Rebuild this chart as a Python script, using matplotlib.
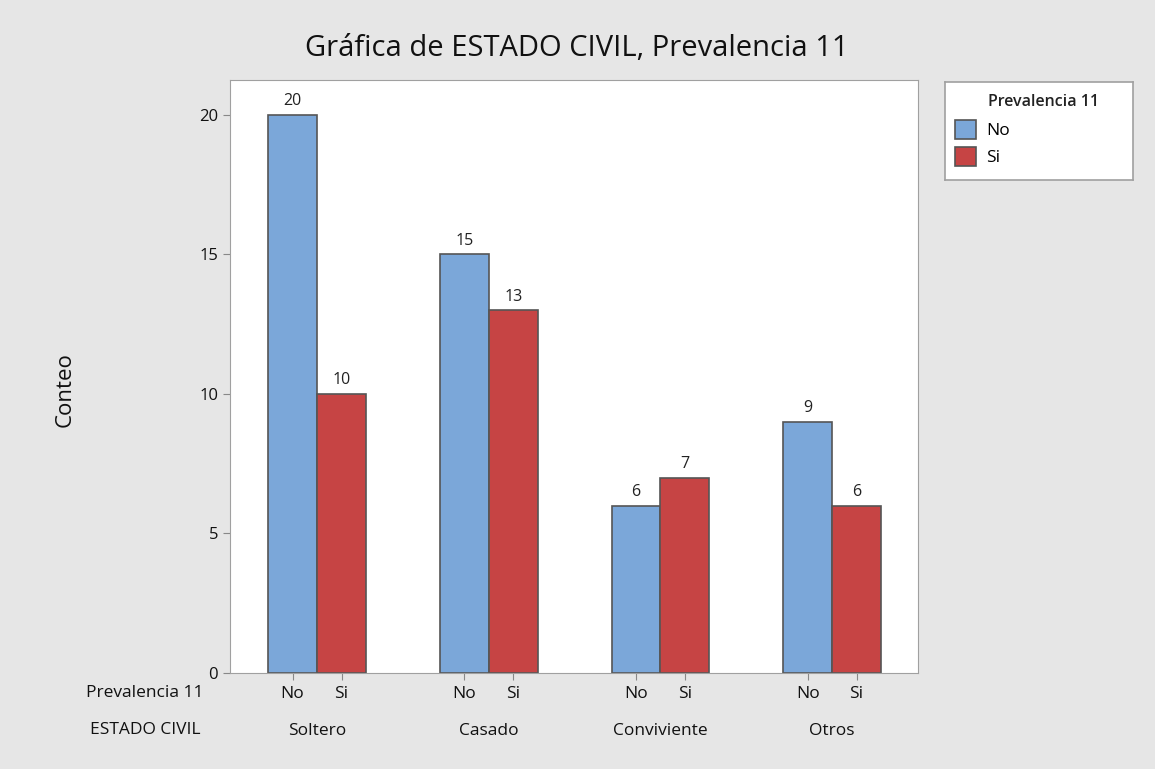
import matplotlib.pyplot as plt
import numpy as np

plt.rcParams['font.family'] = ['Open Sans', 'DejaVu Sans']

grupos = ['Soltero', 'Casado', 'Conviviente', 'Otros']
niveles = ['No', 'Si']
conteo_no = [20, 15, 6, 9]
conteo_si = [10, 13, 7, 6]

color_no = '#7ba7d9'
color_si = '#c64444'
fondo = '#e6e6e6'
borde = '#555555'
W, H = 1155, 769

fig = plt.figure(figsize=(11.55, 7.69), dpi=100, facecolor=fondo)
ax = fig.add_axes([230 / W, 1 - 673 / H, (918 - 230) / W, (673 - 80) / H])

x = np.arange(len(grupos))
w = 0.285
b1 = ax.bar(x - w / 2, conteo_no, w, color=color_no, edgecolor=borde, linewidth=1.2, label='No')
b2 = ax.bar(x + w / 2, conteo_si, w, color=color_si, edgecolor=borde, linewidth=1.2, label='Si')
for bars in (b1, b2):
    for r in bars:
        ax.annotate(str(int(r.get_height())), (r.get_x() + r.get_width() / 2, r.get_height()),
                    xytext=(0, 4), textcoords='offset points', ha='center', va='bottom',
                    fontsize=11.5, color='#222222')

ax.set_xlim(-0.507, 3.5)
ax.set_ylim(0, 21.25)
ax.set_yticks([0, 5, 10, 15, 20])
ax.tick_params(axis='y', labelsize=12, colors='#888888', labelcolor='#111111', length=5)

ticks = np.concatenate([x - w / 2, x + w / 2])
ax.set_xticks(ticks)
ax.set_xticklabels(['No'] * 4 + ['Si'] * 4)
ax.tick_params(axis='x', labelsize=12.5, colors='#888888', labelcolor='#111111', length=5, pad=4)
for s in ax.spines.values():
    s.set_color('#a0a0a0')

for xi, g in zip(x, grupos):
    ax.text(xi, -0.098, g, transform=ax.get_xaxis_transform(), ha='center', va='center', fontsize=12.5, color='#111111')
fig.text(145 / W, 1 - 693 / H, 'Prevalencia 11', ha='center', va='center', fontsize=12.5, color='#111111')
fig.text(145 / W, 1 - 730 / H, 'ESTADO CIVIL', ha='center', va='center', fontsize=12.5, color='#111111')

fig.text(65 / W, 1 - 390 / H, 'Conteo', rotation=90, ha='center', va='center', fontsize=16, color='#111111')
fig.text(577 / W, 1 - 48 / H, 'Gráfica de ESTADO CIVIL, Prevalencia 11', ha='center', va='center', fontsize=21, color='#111111')

# leyenda en caja propia
lg = fig.add_axes([945 / W, 1 - 180 / H, (1133 - 945) / W, (180 - 82) / H])
lg.set_xticks([])
lg.set_yticks([])
for s in lg.spines.values():
    s.set_color('#a0a0a0')
    s.set_linewidth(1.2)
lg.text(43 / 188, 1 - 20 / 98, 'Prevalencia 11', transform=lg.transAxes, ha='left', va='center',
        fontsize=11.5, fontweight='semibold', color='#222222')
leg = lg.legend(handles=[b1, b2], labels=niveles, loc='upper left', bbox_to_anchor=(0.0, 0.71),
                frameon=False, fontsize=12.5, handlelength=1.25, handleheight=1.3,
                handletextpad=0.55, labelspacing=0.45, borderaxespad=0.15)

fig.savefig('out.png', dpi=100, facecolor=fondo)
